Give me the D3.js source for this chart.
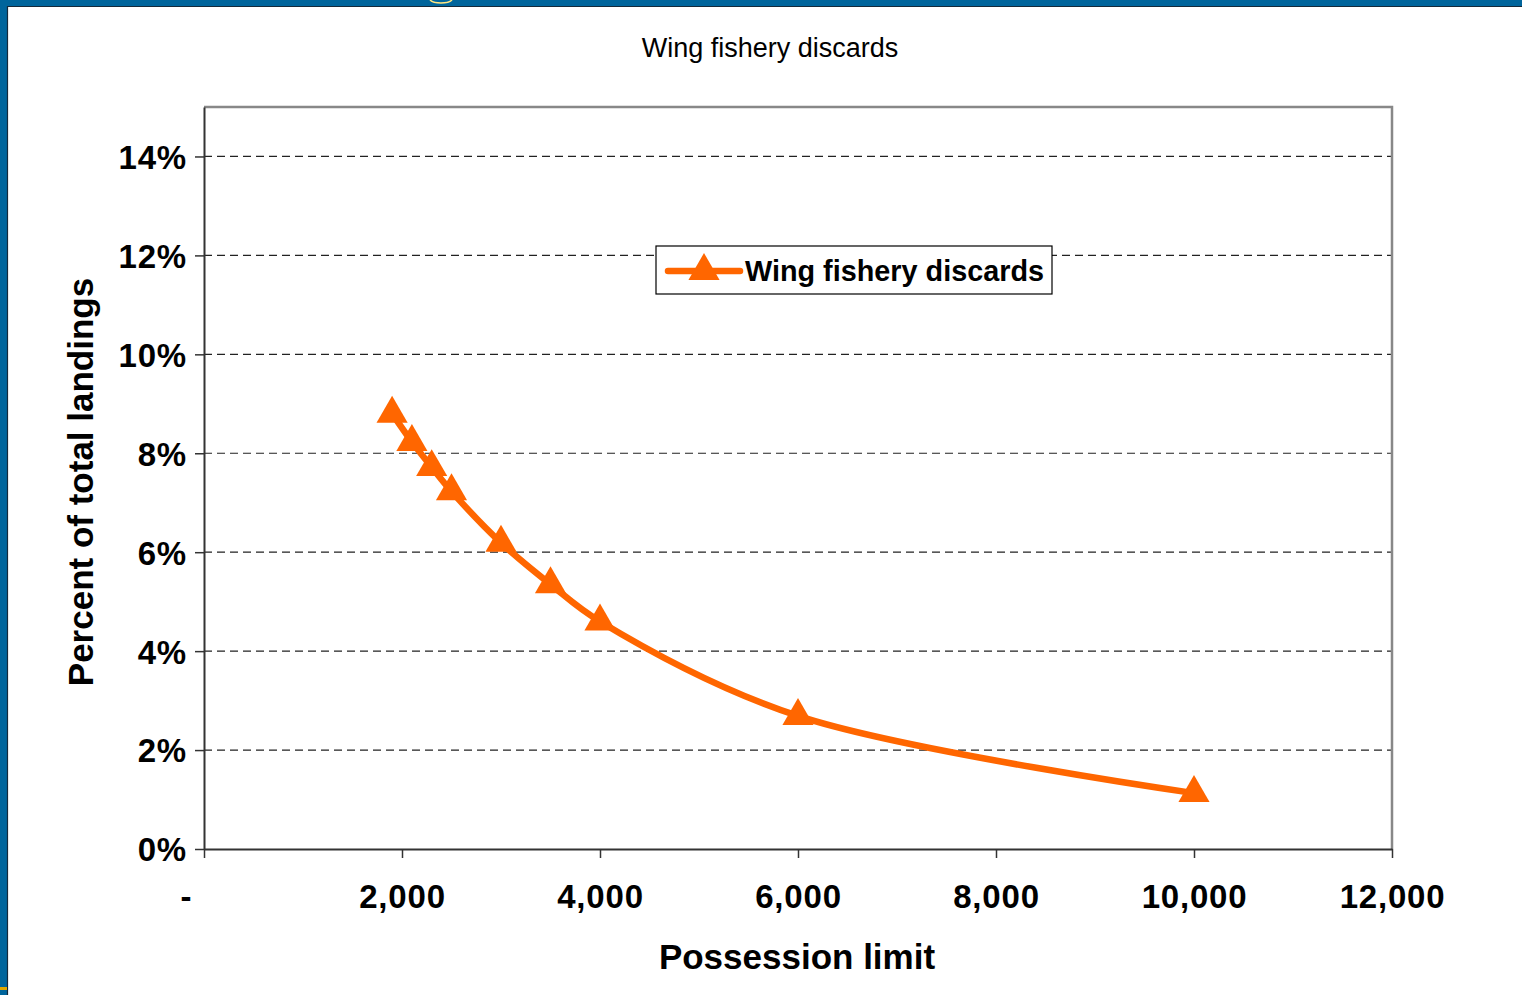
<!DOCTYPE html>
<html>
<head>
<meta charset="utf-8">
<script src="https://cdn.jsdelivr.net/npm/d3@7"></script>
<style>
  body { margin: 0; background: #fff; }
  svg { display: block; font-family: "Liberation Sans", Arial, sans-serif; }
  .axis text { font-weight: bold; font-size: 33px; fill: #000; letter-spacing: 0.8px; }
</style>
</head>
<body>
<div class="chart"></div>
<script>
// data
const possessionLimit = [1900, 2100, 2300, 2500, 3000, 3500, 4000, 6000, 10000]
const discardPct = [0.088, 0.0823, 0.0772, 0.0723, 0.0619, 0.0535, 0.046, 0.0269, 0.0113]
const xTicks = [0, 2000, 4000, 6000, 8000, 10000, 12000]
const yTicks = [0, 0.02, 0.04, 0.06, 0.08, 0.10, 0.12, 0.14]
const seriesName = 'Wing fishery discards'

const data = possessionLimit.map((x, i) => ({ x: x, y: discardPct[i] }))

const svg_width = 1522
const svg_height = 995
const plot = { left: 204, top: 107, right: 1392, bottom: 849 }

const svg = d3.select('.chart').append('svg')
  .attr('width', svg_width).attr('height', svg_height)

// slide frame (blue band top and left)
svg.append('rect').attr('x', 0).attr('y', 0).attr('width', svg_width).attr('height', 6).attr('fill', '#00659c')
svg.append('rect').attr('x', 0).attr('y', 0).attr('width', 7).attr('height', svg_height).attr('fill', '#00659c')
svg.append('line').attr('x1', 7).attr('x2', svg_width).attr('y1', 6.5).attr('y2', 6.5).attr('stroke', '#15293a').attr('stroke-width', 1.2)
svg.append('line').attr('x1', 7.5).attr('x2', 7.5).attr('y1', 6).attr('y2', svg_height).attr('stroke', '#15293a').attr('stroke-width', 1.2)
svg.append('path').attr('d', 'M430,0 A12,5 0 0 0 452,0').attr('fill', 'none').attr('stroke', '#ffe680').attr('stroke-width', 1.5)
svg.append('rect').attr('x', 0).attr('y', 987).attr('width', 7).attr('height', 3).attr('fill', '#e0a800')

// scales
const xScale = d3.scaleLinear([0, 12000], [plot.left, plot.right])
const yScale = d3.scaleLinear([0, 0.15], [plot.bottom, plot.top])

// title
svg.append('text')
  .attr('x', 770).attr('y', 57)
  .attr('text-anchor', 'middle')
  .style('font-size', '27px')
  .text(seriesName)

// grid lines
svg.append('g').selectAll('line')
  .data(yTicks.filter(d => d > 0))
  .join('line')
  .attr('x1', plot.left).attr('x2', plot.right)
  .attr('y1', d => yScale(d)).attr('y2', d => yScale(d))
  .attr('stroke', '#222').attr('stroke-width', 1.2)
  .attr('stroke-dasharray', '8,5')

// plot border top/right
svg.append('path')
  .attr('d', `M${plot.left},${plot.top}H${plot.right}V${plot.bottom}`)
  .attr('fill', 'none').attr('stroke', '#888').attr('stroke-width', 2.5)

// axes
const yAxis = d3.axisLeft(yScale)
  .tickValues(yTicks)
  .tickFormat(d3.format('.0%'))
  .tickSizeInner(9).tickSizeOuter(0).tickPadding(9)
const yAxisDraw = svg.append('g').attr('class', 'y axis')
  .attr('transform', `translate(${plot.left},0)`)
  .call(yAxis)
yAxisDraw.select('.domain').attr('stroke', '#333').attr('stroke-width', 2)
yAxisDraw.selectAll('.tick line').attr('stroke', '#333').attr('stroke-width', 1.5)
yAxisDraw.selectAll('text').attr('dy', '0.36em').attr('dx', 1)

const xAxis = d3.axisBottom(xScale)
  .tickValues(xTicks)
  .tickFormat(d => d === 0 ? '-' : d3.format(',')(d))
  .tickSizeInner(9).tickSizeOuter(0).tickPadding(27)
const xAxisDraw = svg.append('g').attr('class', 'x axis')
  .attr('transform', `translate(0,${plot.bottom})`)
  .call(xAxis)
xAxisDraw.select('.domain').attr('stroke', '#333').attr('stroke-width', 2)
xAxisDraw.selectAll('.tick line').attr('stroke', '#333').attr('stroke-width', 1.5)
xAxisDraw.selectAll('text').attr('dx', d => d === 0 ? -18 : 0)

// axis titles
svg.append('text')
  .attr('x', 797).attr('y', 969)
  .attr('text-anchor', 'middle')
  .style('font-size', '35px').style('font-weight', 'bold')
  .text('Possession limit')
svg.append('text')
  .attr('transform', `translate(93,${(plot.top + plot.bottom) / 2 + 4}) rotate(-90)`)
  .attr('text-anchor', 'middle')
  .style('font-size', '35px').style('font-weight', 'bold')
  .text('Percent of total landings')

// line + markers
const orange = '#ff6600'
const line = d3.line()
  .x(d => xScale(d.x)).y(d => yScale(d.y))
  .curve(d3.curveCatmullRom.alpha(0.5))
svg.append('path').datum(data)
  .attr('d', line)
  .attr('fill', 'none').attr('stroke', orange).attr('stroke-width', 6.5)
  .attr('stroke-linejoin', 'round')

const tri = d3.symbol().type(d3.symbolTriangle).size(420)
svg.append('g').selectAll('path')
  .data(data)
  .join('path')
  .attr('d', tri)
  .attr('transform', d => `translate(${xScale(d.x)},${yScale(d.y)})`)
  .attr('fill', orange)

// legend
const legend = svg.append('g').attr('transform', 'translate(656,246)')
legend.append('rect')
  .attr('width', 396).attr('height', 48)
  .attr('fill', '#fff').attr('stroke', '#000').attr('stroke-width', 1.2)
legend.append('line')
  .attr('x1', 12).attr('x2', 84).attr('y1', 25).attr('y2', 25)
  .attr('stroke', orange).attr('stroke-width', 6.5).attr('stroke-linecap', 'round')
legend.append('path')
  .attr('d', tri).attr('transform', 'translate(48,25)').attr('fill', orange)
legend.append('text')
  .attr('x', 89).attr('y', 35)
  .style('font-size', '28.8px').style('font-weight', 'bold')
  .text(seriesName)
</script>
</body>
</html>
